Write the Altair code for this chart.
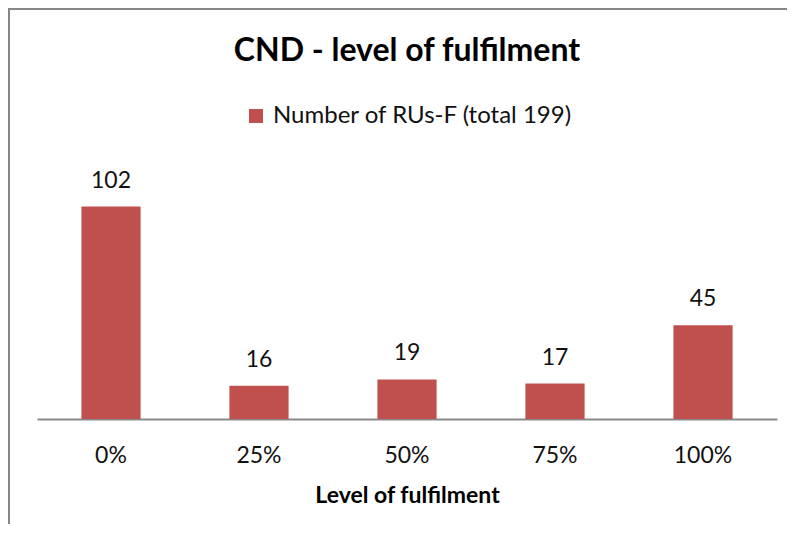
import altair as alt
import pandas as pd

categories = ["0%", "25%", "50%", "75%", "100%"]
counts = [102, 16, 19, 17, 45]
series_name = "Number of RUs-F (total 199)"
title_text = "CND - level of fulfilment"
x_title = "Level of fulfilment"

df = pd.DataFrame({"level": categories, "count": counts, "series": [series_name] * len(categories)})

FONT = "Lato"
BAR = "#C0504D"
TXT = "#111111"

x = alt.X(
    "level:N", sort=categories, title=x_title,
    scale=alt.Scale(paddingInner=0.6, paddingOuter=0.3),
    axis=alt.Axis(labelAngle=0, ticks=False, grid=False,
                  domainColor="#898989", domainWidth=2,
                  labelFont=FONT, labelFontSize=23, labelColor=TXT, labelPadding=25,
                  titleFont=FONT, titleFontSize=23, titleFontWeight="bold",
                  titleColor="#000000", titlePadding=17),
)
y = alt.Y("count:Q", scale=alt.Scale(domain=[0, 120]), axis=None)

bars = alt.Chart(df).mark_bar().encode(
    x=x, y=y,
    color=alt.Color("series:N", scale=alt.Scale(range=[BAR]),
                    legend=alt.Legend(orient="none", legendX=207, legendY=-65, title=None,
                                      symbolType="square", symbolSize=196, symbolStrokeWidth=0,
                                      symbolOpacity=1, labelOffset=5,
                                      labelFont=FONT, labelFontSize=24, labelColor=TXT,
                                      labelLimit=500)),
)

labels = alt.Chart(df).mark_text(baseline="alphabetic", dy=-19, font=FONT, fontSize=23, color=TXT).encode(
    x=alt.X("level:N", sort=categories), y="count:Q", text="count:Q"
)

frame_df = pd.DataFrame({"title": [title_text]})
title_mark = alt.Chart(frame_df).mark_text(
    font=FONT, fontSize=32, fontWeight="bold", color="#000000", align="center", baseline="alphabetic"
).encode(x=alt.value(370), y=alt.value(-108), text="title:N")

left_border = alt.Chart(frame_df).mark_rule(color="#868686", strokeWidth=2).encode(
    x=alt.value(-28), y=alt.value(-160), y2=alt.value(363)
)
top_border = alt.Chart(frame_df).mark_rule(color="#868686", strokeWidth=2).encode(
    x=alt.value(-29), x2=alt.value(752), y=alt.value(-160)
)

chart = alt.layer(bars, labels, title_mark, left_border, top_border).properties(
    width=740, height=250,
    autosize=alt.AutoSizeParams(type="none"),
    padding={"left": 29, "top": 161, "right": 10, "bottom": 105},
).configure_view(stroke=None)

chart.save("out.html", embed_options={"renderer": "svg", "actions": False})
